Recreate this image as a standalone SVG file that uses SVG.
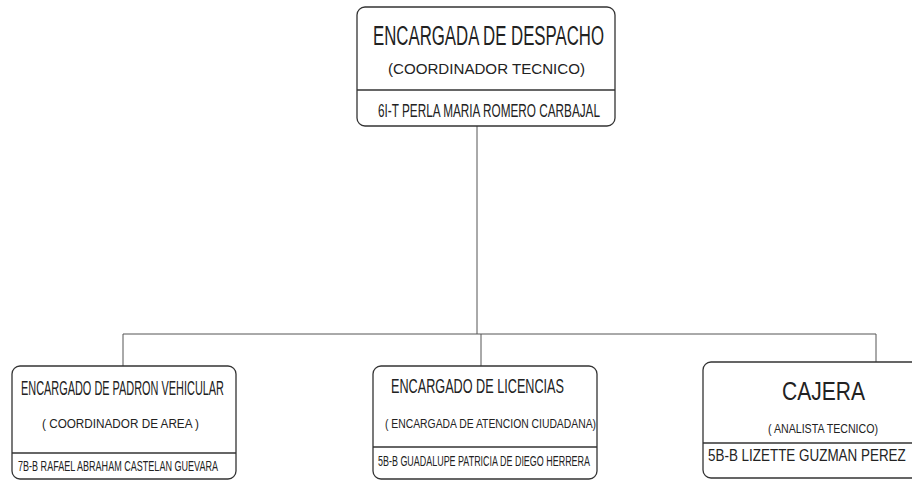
<svg xmlns="http://www.w3.org/2000/svg" width="912" height="480" viewBox="0 0 912 480">
<style>
.box{fill:#fff;stroke:#333;stroke-width:1.3}
.div{stroke:#333;stroke-width:1.5}
.con{fill:none;stroke:#555;stroke-width:1}
text{font-family:"Liberation Sans",Arial,sans-serif;fill:#222}
</style>
<rect width="912" height="480" fill="#fff"/>
<g id="connectors">
<path class="con" d="M477 126V334M123 334H876M123 334V366M481 334V366M876 334V362"/>
</g>
<g id="despacho">
<rect class="box" x="357" y="7" width="258" height="119" rx="8"/>
<line class="div" x1="357" y1="90" x2="615" y2="90"/>
<text x="373" y="45" font-size="27" textLength="231" lengthAdjust="spacingAndGlyphs">ENCARGADA DE DESPACHO</text>
<text x="388" y="74" font-size="14" textLength="197" lengthAdjust="spacingAndGlyphs">(COORDINADOR TECNICO)</text>
<text x="378" y="117" font-size="19" textLength="222" lengthAdjust="spacingAndGlyphs">6I-T  PERLA MARIA ROMERO CARBAJAL</text>
</g>
<g id="padron">
<rect class="box" x="12" y="366" width="224" height="113" rx="8"/>
<line class="div" x1="12" y1="453" x2="236" y2="453"/>
<text x="21" y="395" font-size="21" textLength="203" lengthAdjust="spacingAndGlyphs">ENCARGADO DE PADRON VEHICULAR</text>
<text x="42" y="428" font-size="12" textLength="157" lengthAdjust="spacingAndGlyphs">( COORDINADOR DE AREA )</text>
<text x="18" y="471" font-size="15" textLength="200" lengthAdjust="spacingAndGlyphs">7B-B  RAFAEL ABRAHAM CASTELAN GUEVARA</text>
</g>
<g id="licencias">
<rect class="box" x="373" y="366" width="224" height="113" rx="8"/>
<line class="div" x1="373" y1="447" x2="597" y2="447"/>
<text x="391" y="393" font-size="21" textLength="173" lengthAdjust="spacingAndGlyphs">ENCARGADO DE LICENCIAS</text>
<text x="385" y="428" font-size="12" textLength="211" lengthAdjust="spacingAndGlyphs">( ENCARGADA DE ATENCION CIUDADANA)</text>
<text x="378" y="466" font-size="15" textLength="212" lengthAdjust="spacingAndGlyphs">5B-B GUADALUPE PATRICIA DE DIEGO HERRERA</text>
</g>
<g id="cajera">
<rect class="box" x="703" y="362" width="230" height="116" rx="8"/>
<line class="div" x1="703" y1="443" x2="933" y2="443"/>
<text x="782" y="400" font-size="26" textLength="83" lengthAdjust="spacingAndGlyphs">CAJERA</text>
<text x="768" y="433" font-size="12" textLength="110" lengthAdjust="spacingAndGlyphs">( ANALISTA TECNICO)</text>
<text transform="translate(708 461) scale(0.84 1)" font-size="16">5B-B LIZETTE GUZMAN PEREZ</text>
</g>
</svg>
